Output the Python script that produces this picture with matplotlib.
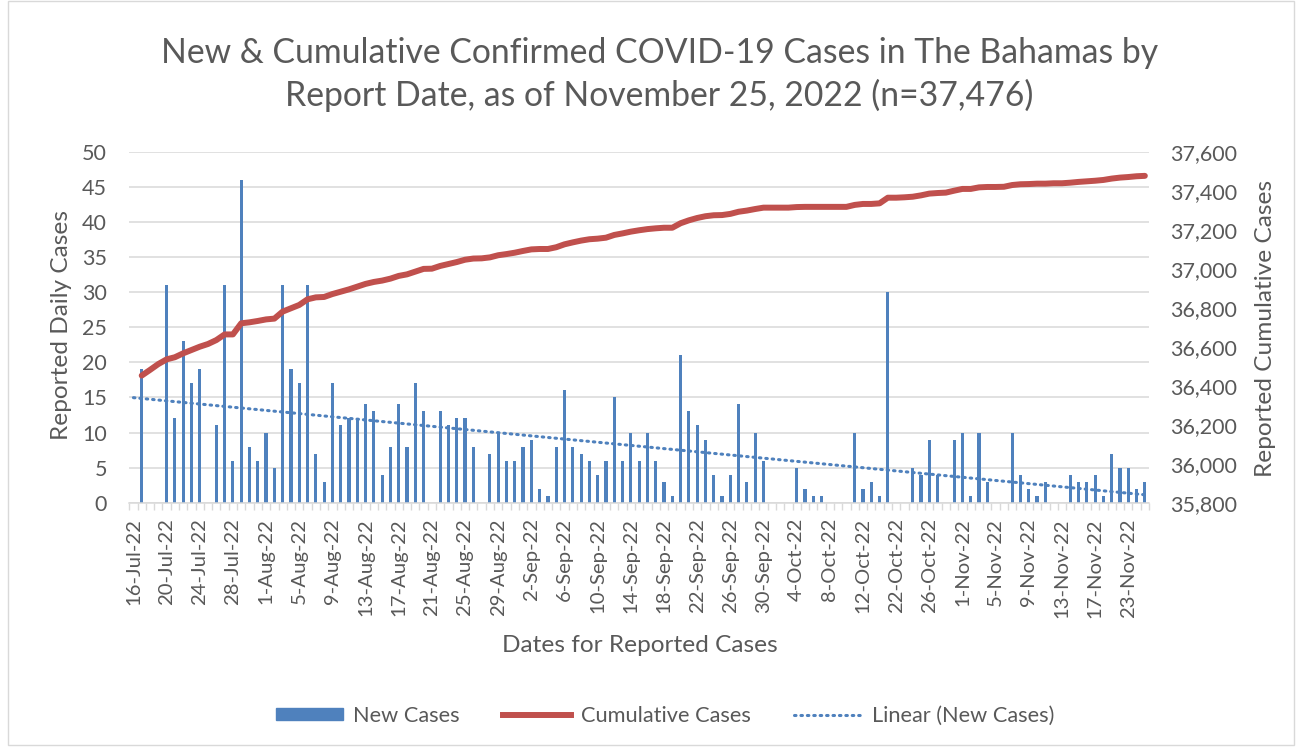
import matplotlib.pyplot as plt
import matplotlib.patches as mpatches
from matplotlib.lines import Line2D
from matplotlib.ticker import FuncFormatter
import numpy as np
import pandas as pd

plt.rcParams['font.family'] = ['Lato', 'DejaVu Sans']

# Report dates (some days are missing from mid-October on)
report_dates = (list(pd.date_range('2022-07-16', '2022-10-12'))
                + list(pd.to_datetime(['2022-10-13', '2022-10-17', '2022-10-19']))
                + list(pd.date_range('2022-10-22', '2022-10-28'))
                + list(pd.date_range('2022-10-31', '2022-11-18'))
                + list(pd.date_range('2022-11-21', '2022-11-25')))
date_labels = [f"{d.day}-{d.strftime('%b-%y')}" for d in report_dates]

# New cases per report date (first date has no entry)
new_cases = [None, 19, 0, 0, 31, 12, 23, 17, 19, 0,
             11, 31, 6, 46, 8, 6, 10, 5, 31, 19,
             17, 31, 7, 3, 17, 11, 12, 12, 14, 13,
             4, 8, 14, 8, 17, 13, 0, 13, 11, 12,
             12, 8, 0, 7, 10, 6, 6, 8, 9, 2,
             1, 8, 16, 8, 7, 6, 4, 6, 15, 6,
             10, 6, 10, 6, 3, 1, 21, 13, 11, 9,
             4, 1, 4, 14, 3, 10, 6, 0, 0, 0,
             5, 2, 1, 1, 0, 0, 0, 10, 2, 3,
             1, 30, 0, 0, 5, 4, 9, 4, 0, 9,
             10, 1, 10, 3, 0, 0, 10, 4, 2, 1,
             3, 0, 0, 4, 3, 3, 4, 1, 7, 5,
             5, 2, 3]

# Cumulative cases per report date
cumulative = [None,
              36452, 36481, 36511, 36535, 36546, 36566, 36583, 36600, 36614, 36634,
              36663, 36663, 36720, 36725, 36732, 36740, 36744, 36780, 36797, 36814,
              36843, 36853, 36855, 36870, 36882, 36894, 36908, 36922, 36932, 36939,
              36949, 36963, 36971, 36985, 36999, 37000, 37014, 37024, 37034, 37046,
              37052, 37053, 37058, 37069, 37075, 37082, 37091, 37099, 37101, 37101,
              37110, 37125, 37135, 37144, 37151, 37154, 37159, 37173, 37181, 37190,
              37197, 37203, 37207, 37210, 37210, 37233, 37248, 37260, 37269, 37274,
              37275, 37281, 37292, 37298, 37306, 37313, 37313, 37313, 37313, 37316,
              37317, 37317, 37317, 37317, 37317, 37317, 37327, 37332, 37332, 37335,
              37364, 37364, 37366, 37369, 37376, 37385, 37388, 37390, 37400, 37409,
              37409, 37417, 37419, 37419, 37420, 37429, 37433, 37434, 37436, 37436,
              37438, 37438, 37441, 37445, 37448, 37451, 37455, 37462, 37467, 37470,
              37474, 37476]

blue = '#4F81BD'
red = '#C0504D'
grey_text = '#595959'
grid_grey = '#D9D9D9'

new_arr = np.array(new_cases, dtype=float)
cum_arr = np.array(cumulative, dtype=float)
x = np.arange(len(date_labels))

fig = plt.figure(figsize=(12.98, 7.49), dpi=100)
ax = fig.add_axes([0.0996, 0.3288, 0.7856, 0.4687])
ax2 = ax.twinx()

ax.bar(x, np.nan_to_num(new_arr), width=0.38, color=blue, zorder=2)

# linear trendline of the new cases
ok = ~np.isnan(new_arr)
slope, intercept = np.polyfit(x[ok], new_arr[ok], 1)
ax.plot(x, slope * x + intercept, color=blue, lw=2.2, linestyle=(0, (0.5, 1.6)),
        dash_capstyle='round', zorder=3)

ax2.plot(x, cum_arr, color=red, lw=4.3, solid_capstyle='round', solid_joinstyle='round')

ax.set_xlim(-0.5, len(x) - 0.5)
ax.set_ylim(0, 50)
ax.set_yticks(np.arange(0, 51, 5))
ax2.set_ylim(35800, 37600)
ax2.set_yticks(np.arange(35800, 37601, 200))
ax2.yaxis.set_major_formatter(FuncFormatter(lambda v, p: f'{int(v):,}'))

ax.grid(axis='y', color=grid_grey, lw=1.1, zorder=0)
ax.set_axisbelow(True)
for s in ['top', 'left', 'right']:
    ax.spines[s].set_visible(False)
for s in ax2.spines.values():
    s.set_visible(False)
ax.spines['bottom'].set_color(grid_grey)
ax.spines['bottom'].set_linewidth(1.1)

ax.set_xticks(np.arange(-0.5, len(x), 1))
ax.set_xticklabels([])
ax.tick_params(axis='x', which='major', length=5, color=grid_grey, width=1)
ax.set_xticks(x[::4], minor=True)
ax.set_xticklabels(date_labels[::4], minor=True, rotation=90, fontsize=14.6, color=grey_text)
ax.tick_params(axis='x', which='minor', length=0, pad=11)

ax.tick_params(axis='y', length=0, pad=16, labelsize=15.5, labelcolor=grey_text)
ax2.tick_params(axis='y', length=0, pad=15, labelsize=15.5, labelcolor=grey_text)

fig.text(0.508, 0.9005, 'New & Cumulative Confirmed COVID-19 Cases in The Bahamas by\nReport Date, as of November 25, 2022 (n=37,476)',
         ha='center', va='center', fontsize=24.3, color=grey_text, linespacing=1.36)
fig.text(62 / 1298, 1 - 325 / 749, 'Reported Daily Cases', rotation=90, ha='center', va='center',
         fontsize=17.6, color=grey_text)
fig.text(1265 / 1298, 1 - 328 / 749, 'Reported Cumulative Cases', rotation=90, ha='center', va='center',
         fontsize=17.6, color=grey_text)
fig.text(640 / 1298, 1 - 646 / 749, 'Dates for Reported Cases', ha='center', va='center',
         fontsize=17.6, color=grey_text)

handles = [mpatches.Patch(color=blue),
           Line2D([], [], color=red, lw=4.3),
           Line2D([], [], color=blue, lw=2.2, linestyle=(0, (0.5, 1.6)), dash_capstyle='round')]
fig.legend(handles, ['New Cases', 'Cumulative Cases', 'Linear (New Cases)'],
           loc='center', bbox_to_anchor=(665 / 1298, 1 - 716 / 749), ncol=3, frameon=False,
           fontsize=15.7, labelcolor=grey_text, handlelength=3.1, handleheight=0.45,
           columnspacing=2.0, handletextpad=0.45)

fig.patches.append(mpatches.Rectangle((8 / 1298, 4 / 749), 1286 / 1298, 744 / 749,
                                      transform=fig.transFigure, fill=False, ec=grid_grey, lw=1))

fig.savefig('out.png', dpi=100)
